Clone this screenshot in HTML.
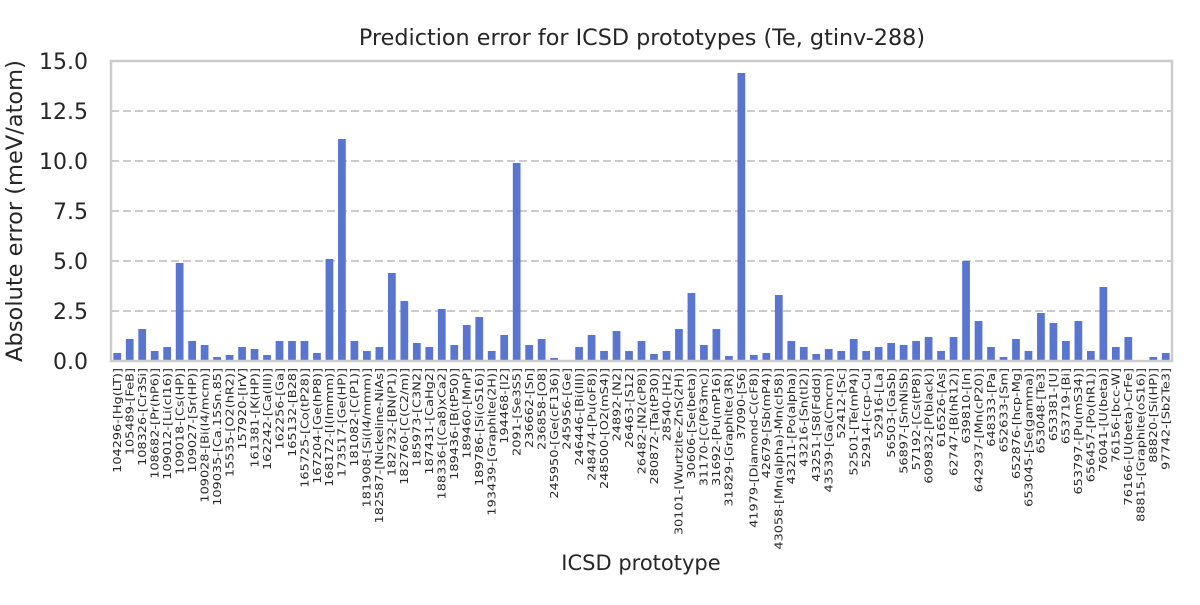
<!DOCTYPE html>
<html><head><meta charset="utf-8"><style>
body{margin:0;background:#fff;font-family:"Liberation Sans","DejaVu Sans",sans-serif;}
svg text{font-family:"DejaVu Sans","Liberation Sans",sans-serif;fill:#262626;}
</style></head><body>
<svg id="chart" width="1200" height="600">
<text x="642" y="45" font-size="22.3" text-anchor="middle">Prediction error for ICSD prototypes (Te, gtinv-288)</text>
<g id="grid"></g><g id="bars"></g><g id="yticks"></g><g id="xticks"></g>
<rect x="111" y="61" width="1061" height="300" fill="none" stroke="#cccccc" stroke-width="2.5"/>
<text x="641" y="570" font-size="21" text-anchor="middle">ICSD prototype</text>
<text transform="translate(22,211) rotate(-90)" font-size="22.5" text-anchor="middle">Absolute error (meV/atom)</text>
</svg>
<script>
const categories=["104296-[Hg(LT)]","105489-[FeB]","108326-[Cr3Si]","108682-[Pr(hP6)]","109012-[Li(cI16)]","109018-[Cs(HP)]","109027-[Sr(HP)]","109028-[Bi(I4/mcm)]","109035-[Ca.15Sn.85]","15535-[O2(hR2)]","157920-[IrV]","161381-[K(HP)]","162242-[Ca(III)]","162256-[Ga]","165132-[B28]","165725-[Co(tP28)]","167204-[Ge(hP8)]","168172-[I(Immm)]","173517-[Ge(HP)]","181082-[C(P1)]","181908-[Si(I4/mmm)]","182587-[Nickeline-NiAs]","182732-[BN(P1)]","182760-[C(C2/m)]","185973-[C3N2]","187431-[CaHg2]","188336-[(Ca8)xCa2]","189436-[B(tP50)]","189460-[MnP]","189786-[Si(oS16)]","193439-[Graphite(2H)]","194468-[I2]","2091-[Se3S5]","236662-[Sn]","236858-[O8]","245950-[Ge(cF136)]","245956-[Ge]","246446-[Bi(III)]","248474-[Pu(oF8)]","248500-[O2(mS4)]","24892-[N2]","26463-[S12]","26482-[N2(cP8)]","280872-[Ta(tP30)]","28540-[H2]","30101-[Wurtzite-ZnS(2H)]","30606-[Se(beta)]","31170-[C(P63mc)]","31692-[Pu(mP16)]","31829-[Graphite(3R)]","37090-[S6]","41979-[Diamond-C(cF8)]","42679-[Sb(mP4)]","43058-[Mn(alpha)-Mn(cI58)]","43211-[Po(alpha)]","43216-[Sn(tI2)]","43251-[S8(Fddd)]","43539-[Ga(Cmcm)]","52412-[Sc]","52501-[Te(mP4)]","52914-[ccp-Cu]","52916-[La]","56503-[GaSb]","56897-[SmNiSb]","57192-[Cs(tP8)]","609832-[P(black)]","616526-[As]","62747-[B(hR12)]","639810-[In]","642937-[Mn(cP20)]","648333-[Pa]","652633-[Sm]","652876-[hcp-Mg]","653045-[Se(gamma)]","653048-[Te3]","653381-[U]","653719-[Bi]","653797-[Pu(mS34)]","656457-[Po(hR1)]","76041-[U(beta)]","76156-[bcc-W]","76166-[U(beta)-CrFe]","88815-[Graphite(oS16)]","88820-[Si(HP)]","97742-[Sb2Te3]"];
const errors=[0.4,1.1,1.6,0.5,0.7,4.9,1.0,0.8,0.2,0.3,0.7,0.6,0.3,1.0,1.0,1.0,0.4,5.1,11.1,1.0,0.5,0.7,4.4,3.0,0.9,0.7,2.6,0.8,1.8,2.2,0.5,1.3,9.9,0.8,1.1,0.15,0.02,0.7,1.3,0.5,1.5,0.5,1.0,0.35,0.5,1.6,3.4,0.8,1.6,0.25,14.4,0.3,0.4,3.3,1.0,0.7,0.35,0.6,0.5,1.1,0.5,0.7,0.9,0.8,1.0,1.2,0.5,1.2,5.0,2.0,0.7,0.2,1.1,0.5,2.4,1.9,1.0,2.0,0.5,3.7,0.7,1.2,0.0,0.2,0.4];
const yTicks=[0,2.5,5,7.5,10,12.5,15];
const yTickLabels=["0.0","2.5","5.0","7.5","10.0","12.5","15.0"];
const NS="http://www.w3.org/2000/svg";
const X0=111,X1=1172,Y0=361,Y1=61,YMAX=15;
const step=(X1-X0)/categories.length;
const xc=i=>X0+step*(i+0.5);
const ys=v=>Y0-(v/YMAX)*(Y0-Y1);
function mk(t,a,p){const e=document.createElementNS(NS,t);for(const k in a)e.setAttribute(k,a[k]);p.appendChild(e);return e;}
const g=document.getElementById('grid'),b=document.getElementById('bars'),yt=document.getElementById('yticks'),xt=document.getElementById('xticks');
yTicks.forEach((v,i)=>{
 if(v>0&&v<YMAX){const l=mk('line',{x1:X0,x2:X1,y1:ys(v),y2:ys(v),stroke:'#cccccc','stroke-width':2,'stroke-dasharray':'8,4'},g);
 
 }
 const t=mk('text',{x:X0-23,y:ys(v)+8,'font-size':22,'text-anchor':'end'},yt);t.textContent=yTickLabels[i];
 
 
});
const bw=step*0.62;
errors.forEach((v,i)=>{
 const r=mk('rect',{x:xc(i)-bw/2,y:ys(v),width:bw,height:Y0-ys(v),fill:'#5975cf'},b);
 
 
});
categories.forEach((c,i)=>{
 const x=xc(i)+3.8;
 const t=mk('text',{transform:`translate(${x},368) rotate(-90) scale(1.25,1)`,'font-size':10.3,'text-anchor':'end'},xt);t.textContent=c;
 
 
});
</script>
</body></html>
